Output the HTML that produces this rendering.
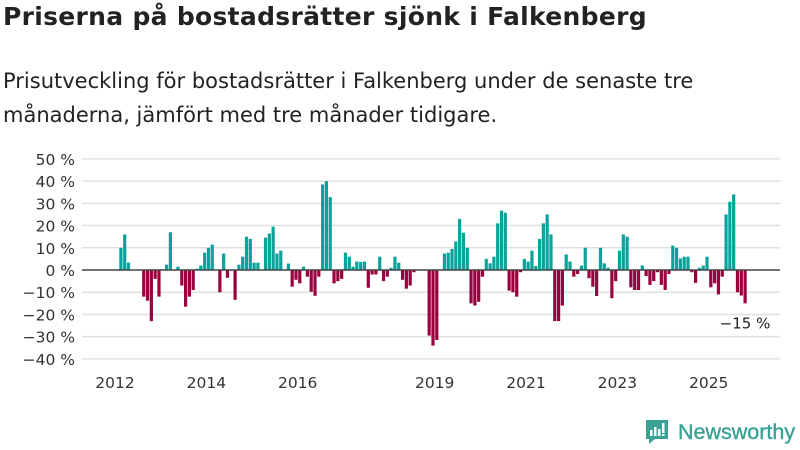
<!DOCTYPE html>
<html><head><meta charset="utf-8"><style>
body{margin:0;width:800px;height:450px;background:#fff;font-family:"DejaVu Sans","Liberation Sans",sans-serif;color:#222;overflow:hidden;position:relative}
#title{position:absolute;left:3px;top:2px;font-size:25px;font-weight:bold;margin:0;letter-spacing:0.3px}
#sub{position:absolute;left:3px;top:64px;font-size:21px;line-height:34px;width:740px}
svg{position:absolute;left:0;top:0}
</style></head><body>
<h1 id="title">Priserna på bostadsrätter sjönk i Falkenberg</h1>
<div id="sub">Prisutveckling för bostadsrätter i Falkenberg under de senaste tre månaderna, jämfört med tre månader tidigare.</div>
<svg id="chart" width="800" height="450"></svg>
<div style="position:absolute;left:645px;top:419px;height:26px;display:flex;align-items:center">
<svg width="24" height="26" style="position:static"><path d="M1 1h22v19H10l-6 5v-5H1z" fill="#3aa195"/><rect x="5" y="11" width="2.5" height="6" fill="#fff"/><rect x="9" y="8" width="2.5" height="9" fill="#fff"/><rect x="13" y="10" width="2.5" height="7" fill="#fff"/><rect x="17" y="4" width="2.5" height="10" fill="#fff"/><rect x="17" y="15" width="2.5" height="2" fill="#fff"/></svg>
<span style="font-size:21.5px;color:#3aa195;margin-left:9px;font-family:'Liberation Sans',sans-serif;-webkit-text-stroke:0.4px #3aa195">Newsworthy</span></div>
<script>
const yTicks=[50,40,30,20,10,0,-10,-20,-30,-40];
const years=[2012,2014,2016,2019,2021,2023,2025];
const startYear=2012;
const values=[null,10,16,3.3,null,null,null,-12,-13.8,-23,-4,-12,null,2.4,17,null,1.5,-7,-16.5,-12,-9,0.6,2,7.8,10,11.4,null,-10,7.4,-3.5,null,-13.4,2.4,6,15,14,3.3,3.3,null,14.6,16.4,19.5,7.4,8.7,null,2.9,-7.5,-4.4,-6,1.5,-3,-9.8,-11.6,-3,38.5,40,32.8,-6,-5,-4,7.8,6,1.5,3.8,3.6,3.8,-8,-2,-2,6,-5,-3,1,6,3.3,-4.4,-8.4,-7,-1,null,null,null,-29.5,-34,-31.5,null,7.4,7.8,9.5,12.8,23,16.8,10,-15,-16,-14.3,-3,5,3,6,21,26.7,25.8,-9.3,-10,-12,-1,5,3.8,8.7,1.8,14,21,25,16,-23,-23,-16,7,3.8,-3,-1.8,2,10,-3.7,-7.5,-11.7,10,3,1,-12.7,-5,8.7,16,15,-7.8,-9,-9,2,-2.7,-6.7,-5,-1,-6.7,-9,-1.8,11,10,5.2,6,6,-1,-5.8,1,2,6,-7.8,-6,-11,-3,25,30.7,34,-10,-11.5,-15];
const svg=document.getElementById('chart');const NS='http://www.w3.org/2000/svg';
const y=v=>270-v*2.222;
const x=i=>117+i*3.806;
const xYear=yr=>115+(yr-startYear)*45.67;
function mk(t,a){const e=document.createElementNS(NS,t);for(const k in a)e.setAttribute(k,a[k]);svg.appendChild(e);return e;}
yTicks.forEach(v=>{
 if(v!==0){const l=mk('line',{x1:82,x2:780,y1:y(v),y2:y(v),stroke:'#e0e0e0','stroke-width':1.5});
 
 }
 const t=mk('text',{x:75,y:y(v)+6,'text-anchor':'end','font-size':15.5,fill:'#333'});
 t.textContent=(v<0?'−'+(-v):v)+' %';
 
 
});
values.forEach((v,i)=>{
 if(v===null)return;
 const r=mk('rect',{x:x(i)-1.5,width:3.2,y:Math.min(y(v),y(0)),height:Math.abs(y(v)-y(0)),fill:v>=0?'#0aa39b':'#99003d'});
 
 
});
const z=mk('line',{x1:82,x2:780,y1:y(0),y2:y(0),stroke:'#444','stroke-width':1.5});


years.forEach(yr=>{
 const t=mk('text',{x:xYear(yr),y:388,'text-anchor':'middle','font-size':15.5,fill:'#333'});
 t.textContent=yr;
 
 
});
const last=values[values.length-1];
const lab=mk('text',{x:x(values.length-1),y:y(last)+25,'text-anchor':'middle','font-size':15,fill:'#222'});
lab.textContent='−'+Math.abs(last)+' %';


</script>
</body></html>
